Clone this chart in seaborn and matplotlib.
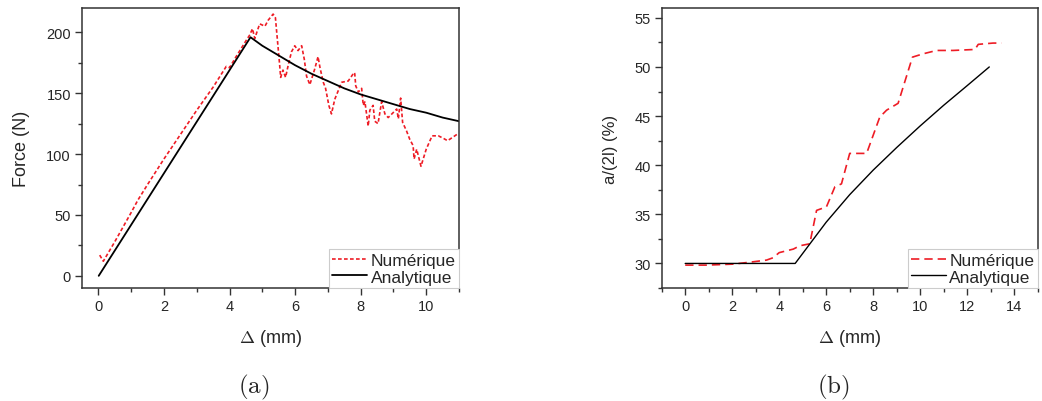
import matplotlib
matplotlib.use("Agg")
import matplotlib.pyplot as plt
import seaborn as sns
import pandas as pd
from matplotlib.ticker import MultipleLocator

# ---- Data (a): Force vs displacement ----
num_a_x = [0.04, 0.15, 0.5, 1.0, 1.2, 1.5, 2.0, 2.5, 3.0, 3.5, 3.9, 4.0, 4.2, 4.5, 4.62, 4.7,
           4.77, 4.92, 5.08, 5.18, 5.33, 5.40, 5.46, 5.53, 5.56, 5.63, 5.71, 5.79, 5.89, 5.99,
           6.09, 6.20, 6.28, 6.35, 6.45, 6.60, 6.70, 6.76, 6.86, 6.93, 7.03, 7.11, 7.21, 7.42,
           7.62, 7.80, 7.82, 7.85, 7.93, 8.03, 8.08, 8.13, 8.23, 8.28, 8.38, 8.43, 8.53, 8.64,
           8.74, 8.84, 8.99, 9.10, 9.15, 9.22, 9.28, 9.40, 9.50, 9.60, 9.63, 9.71, 9.84, 10.0,
           10.18, 10.37, 10.52, 10.65, 10.82, 10.98]
num_a_y = [17, 12, 28, 52, 62, 75, 96, 116, 136, 155, 172, 171, 180, 193, 198, 203,
           195, 207, 205, 210, 215, 212, 194, 173, 163, 169, 163, 173, 184, 189,
           185, 189, 178, 164, 157, 170, 180, 171, 159, 154, 140, 133, 145, 159,
           160, 167, 166, 156, 151, 154, 140, 143, 123, 136, 140, 127, 125, 143,
           133, 130, 134, 137, 129, 146, 126, 119, 112, 107, 96, 104, 90, 104,
           115, 115, 113, 111, 114, 117]
ana_a_x = [0.01, 4.64, 5.0, 5.5, 6.0, 6.5, 7.0, 7.5, 8.0, 8.5, 9.0, 9.5, 10.0, 10.5, 11.0]
ana_a_y = [0, 196, 189, 181, 173, 166, 160, 154, 149, 145, 141, 137, 134, 130, 127]

# ---- Data (b): crack length ratio vs displacement ----
num_b_x = [0.0, 0.91, 2.04, 2.9, 3.46, 3.74, 4.0, 4.6, 4.88, 5.3, 5.59, 6.01, 6.37, 6.65,
           7.0, 7.72, 8.28, 8.57, 9.06, 9.67, 10.13, 10.7, 11.4, 12.33, 12.47, 13.1, 13.46]
num_b_y = [29.83, 29.83, 29.93, 30.17, 30.34, 30.58, 31.1, 31.46, 31.8, 32.0, 35.4, 35.76,
           37.8, 38.1, 41.2, 41.2, 44.9, 45.6, 46.3, 51.0, 51.34, 51.68, 51.68, 51.78, 52.3,
           52.43, 52.43]
ana_b_x = [0.0, 4.68, 6.0, 7.0, 8.0, 9.0, 10.0, 11.0, 12.0, 12.94]
ana_b_y = [30.0, 30.0, 34.2, 37.0, 39.5, 41.8, 44.0, 46.1, 48.1, 50.0]

labels = ["Numérique", "Analytique"]

sns.set_style("ticks")
plt.rcParams["font.family"] = ["Liberation Sans", "DejaVu Sans"]
plt.rcParams["mathtext.fontset"] = "cm"

fig = plt.figure(figsize=(10.42, 4.02), dpi=100)
ax1 = fig.add_axes([82/1042, 1-289/402, (459-82)/1042, 280/402])
ax2 = fig.add_axes([661.7/1042, 1-289/402, (1037.7-661.7)/1042, 280/402])

red = "#ee1c25"

def df(x, y):
    return pd.DataFrame({"x": x, "y": y})

sns.lineplot(data=df(num_a_x, num_a_y), x="x", y="y", ax=ax1, sort=False, estimator=None,
             color=red, lw=1.2, label=labels[0])
ax1.lines[-1].set_dashes([2.2, 1.4])
sns.lineplot(data=df(ana_a_x, ana_a_y), x="x", y="y", ax=ax1, sort=False, estimator=None,
             color="black", lw=1.3, label=labels[1])

sns.lineplot(data=df(num_b_x, num_b_y), x="x", y="y", ax=ax2, sort=False, estimator=None,
             color=red, lw=1.2, label=labels[0])
ax2.lines[-1].set_dashes([5, 3])
sns.lineplot(data=df(ana_b_x, ana_b_y), x="x", y="y", ax=ax2, sort=False, estimator=None,
             color="black", lw=1.0, label=labels[1])

ax1.set_xlim(-0.5, 11)
ax1.set_ylim(-10, 220)
ax1.xaxis.set_major_locator(MultipleLocator(2))
ax1.xaxis.set_minor_locator(MultipleLocator(1))
ax1.yaxis.set_major_locator(MultipleLocator(50))
ax1.yaxis.set_minor_locator(MultipleLocator(25))
ax1.set_ylabel("Force (N)", fontsize=13, labelpad=12)

ax2.set_xlim(-1, 15)
ax2.set_ylim(27.5, 56)
ax2.xaxis.set_major_locator(MultipleLocator(2))
ax2.xaxis.set_minor_locator(MultipleLocator(1))
ax2.yaxis.set_major_locator(MultipleLocator(5))
ax2.yaxis.set_minor_locator(MultipleLocator(2.5))
ax2.set_ylabel("a/(2l) (%)", fontsize=12, labelpad=12)

for ax in (ax1, ax2):
    ax.set_xlabel(r"$\Delta$ (mm)", fontsize=13, labelpad=10)
    ax.tick_params(which="major", direction="out", length=5, width=1, labelsize=10.5,
                   color="#333333", pad=3)
    ax.tick_params(which="minor", direction="out", length=3, width=1, color="#333333")
    for s in ax.spines.values():
        s.set_visible(True)
        s.set_linewidth(1.1)
        s.set_color("#333333")
    leg = ax.legend(loc="lower right", fontsize=12.5, frameon=True, fancybox=False,
                    framealpha=1, edgecolor="#cccccc", borderaxespad=0.0,
                    borderpad=0.2, labelspacing=0.1, handlelength=2.0,
                    handletextpad=0.2)
    leg.get_frame().set_linewidth(0.8)

fig.text(254/1042, 1-387/402, r"$\mathrm{(a)}$", fontsize=18, ha="center", va="center")
fig.text(833/1042, 1-387/402, r"$\mathrm{(b)}$", fontsize=18, ha="center", va="center")

fig.savefig("out.png", dpi=100)
